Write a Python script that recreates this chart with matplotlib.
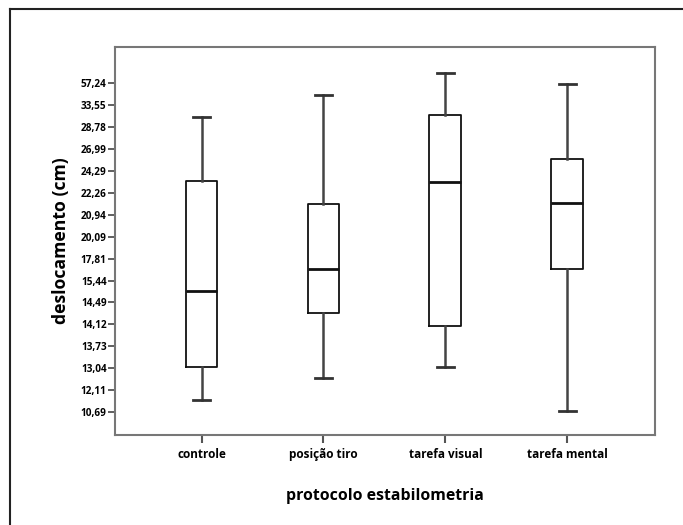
import numpy as np
import matplotlib
matplotlib.use("Agg")
import matplotlib.pyplot as plt
from matplotlib.lines import Line2D

# grupos do protocolo
grupos = ["controle", "posição tiro", "tarefa visual", "tarefa mental"]

# valores dos ticks do eixo y (cm), eixo nao linear como no original
ticks_cm = [10.69, 12.11, 13.04, 13.73, 14.12, 14.49, 15.44, 17.81,
            20.09, 20.94, 22.26, 24.29, 26.99, 28.78, 33.55, 57.24]
tick_labels = ["10,69", "12,11", "13,04", "13,73", "14,12", "14,49", "15,44", "17,81",
               "20,09", "20,94", "22,26", "24,29", "26,99", "28,78", "33,55", "57,24"]

# estatisticas das caixas (cm)
whis_lo = [11.44, 12.61, 13.07, 10.76]
q1 = [13.09, 14.32, 14.09, 16.65]
mediana = [14.98, 16.65, 23.23, 21.63]
q3 = [23.36, 21.61, 31.36, 25.78]
whis_hi = [31.07, 44.92, 68.14, 56.77]

tv = np.array(ticks_cm)
idx = np.arange(len(tv), dtype=float)


def fwd(v):
    v = np.asarray(v, dtype=float)
    out = np.interp(v, tv, idx)
    lo = v < tv[0]
    hi = v > tv[-1]
    out = np.where(lo, (v - tv[0]) / (tv[1] - tv[0]), out)
    out = np.where(hi, idx[-1] + (v - tv[-1]) / (tv[-1] - tv[-2]), out)
    return out


def inv(p):
    p = np.asarray(p, dtype=float)
    out = np.interp(p, idx, tv)
    out = np.where(p < 0, tv[0] + p * (tv[1] - tv[0]), out)
    out = np.where(p > idx[-1], tv[-1] + (p - idx[-1]) * (tv[-1] - tv[-2]), out)
    return out


plt.rcParams['font.family'] = ['Open Sans', 'DejaVu Sans']

fig = plt.figure(figsize=(6.83, 5.25), dpi=100)
ax = fig.add_axes([0.1684, 0.1714, 0.7906, 0.7391])

stats = []
for i, g in enumerate(grupos):
    stats.append(dict(label=g, whislo=whis_lo[i], q1=q1[i], med=mediana[i],
                      q3=q3[i], whishi=whis_hi[i], fliers=[]))

ax.set_yscale('function', functions=(fwd, inv))
ax.bxp(stats, positions=[1, 2, 3, 4], widths=0.26, capwidths=0.14,
       boxprops=dict(color='#111111', linewidth=1.3),
       medianprops=dict(color='#111111', linewidth=2.0),
       whiskerprops=dict(color='#444444', linewidth=1.8),
       capprops=dict(color='#333333', linewidth=2.0),
       showfliers=False)

ax.set_xlim(0.29, 4.72)
ax.set_ylim(inv(-1.05), inv(16.66))
ax.set_yticks(ticks_cm)
ax.set_yticklabels(tick_labels)
ax.minorticks_off()

for s in ax.spines.values():
    s.set_color('#777777')
    s.set_linewidth(1.5)

ax.tick_params(axis='y', direction='out', length=5, width=1.2, color='#444444',
               labelsize=7.2, pad=1)
ax.tick_params(axis='x', direction='out', length=6, width=1.5, color='#555555',
               labelsize=8.5, pad=3)
for lab in ax.get_yticklabels() + ax.get_xticklabels():
    lab.set_fontweight('bold')

ax.set_ylabel("deslocamento (cm)", fontsize=12.7, fontweight='bold', labelpad=8)
ax.set_xlabel("protocolo estabilometria", fontsize=11.4, fontweight='bold', labelpad=20)

# moldura externa (so aparecem topo e esquerda)
fig.add_artist(Line2D([10 / 683, 10 / 683], [0, 1 - 9 / 525], transform=fig.transFigure,
                      color='#222222', linewidth=1.5))
fig.add_artist(Line2D([10 / 683, 1], [1 - 9 / 525, 1 - 9 / 525], transform=fig.transFigure,
                      color='#222222', linewidth=1.5))

fig.savefig("out.png", dpi=100)
